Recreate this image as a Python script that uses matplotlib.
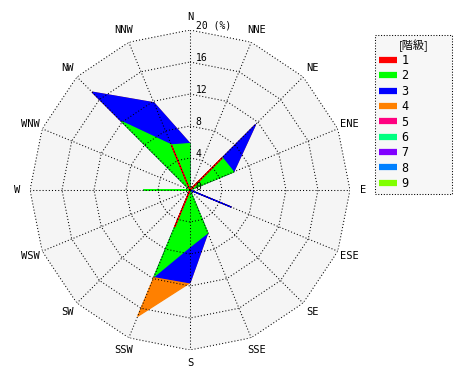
import matplotlib
matplotlib.use("Agg")
import matplotlib.pyplot as plt
from matplotlib.lines import Line2D
import numpy as np

plt.rcParams['font.family'] = ['DejaVu Sans Mono', 'Noto Sans CJK JP']

# 16 directions, clockwise from north
directions = ['N', 'NNE', 'NE', 'ENE', 'E', 'ESE', 'SE', 'SSE',
              'S', 'SSW', 'SW', 'WSW', 'W', 'WNW', 'NW', 'NNW']

# frequency (%) per wind class
class1 = [0, 0, 5.7, 0, 0, 0, 0, 0, 0, 5.0, 0, 0, 0, 0, 0, 6.1]
class2 = [5.8, 0, 0, 5.9, 0, 0, 0, 5.8, 7.1, 6.7, 0, 0, 5.8, 0, 12.1, 0]
class3 = [0, 0, 5.9, 0, 0, 5.6, 0, 0, 4.5, 0, 0, 0, 0, 0, 5.2, 5.7]
class4 = [0, 0, 0, 0, 0, 0, 0, 0, 0, 5.4, 0, 0, 0, 0, 0, 0]
class5 = [0] * 16
class6 = [0] * 16
class7 = [0] * 16
class8 = [0] * 16
class9 = [0] * 16

class_labels = ['1', '2', '3', '4', '5', '6', '7', '8', '9']
class_colors = ['#ff0000', '#00ff00', '#0000ff', '#ff8000', '#ff0080',
                '#00ff80', '#8000ff', '#0080ff', '#80ff00']
ring_values = [4, 8, 12, 16, 20]
ring_labels = ['4', '8', '12', '16', '20 (%)']

classes = [class1, class2, class3, class4, class5, class6, class7, class8, class9]
cum = np.cumsum(np.array(classes, dtype=float), axis=0)

theta = np.arange(16) * 2 * np.pi / 16
theta_c = np.append(theta, theta[0])

fig = plt.figure(figsize=(4.7, 3.8), dpi=100)
ax = fig.add_axes([30 / 470, 30 / 380, 320 / 470, 320 / 380], projection='polar')
ax.set_theta_zero_location('N')
ax.set_theta_direction(-1)
ax.set_ylim(0, 20)
ax.axis('off')

# background
ax.fill(theta_c, [20] * 17, color='#f5f5f5', lw=0, zorder=0)

# stacked polygons, largest cumulative first
for i in range(len(classes) - 1, -1, -1):
    if not any(classes[i]):
        continue
    r = np.append(cum[i], cum[i][0])
    ax.fill(theta_c, r, facecolor=class_colors[i], edgecolor=class_colors[i],
            lw=0.9, zorder=2)

# polygonal grid
dots = (0, (1, 2))
for rv in ring_values:
    ax.plot(theta_c, [rv] * 17, color='black', lw=0.75, ls=dots, zorder=5)
for t in theta:
    ax.plot([t, t], [0, 20], color='black', lw=0.75, ls=dots, zorder=5)

# ring labels
ax.annotate('0', xy=(0, 0), xytext=(4, 0), textcoords='offset points',
            fontsize=7, va='baseline', ha='left', zorder=6)
for rv, lab in zip(ring_values, ring_labels):
    ax.annotate(lab, xy=(0, rv), xytext=(4, 1), textcoords='offset points',
                fontsize=7, va='baseline', ha='left', zorder=6,
                annotation_clip=False)

# direction labels
for t, d in zip(theta, directions):
    ax.text(t, 21.6, d, fontsize=7.5, ha='center', va='center', clip_on=False)

handles = [Line2D([0], [0], color=c, lw=4.5, solid_capstyle='butt') for c in class_colors]
leg = fig.legend(handles, class_labels, title='[階級]', loc='upper left',
                 bbox_to_anchor=(375 / 470, 1 - 196 / 380, 77 / 470, 161 / 380),
                 mode='expand', fontsize=8.5,
                 handlelength=1.5, handletextpad=0.4, labelspacing=0.2,
                 borderpad=0.35, borderaxespad=0, fancybox=False, framealpha=1,
                 facecolor='#f7f7f7', edgecolor='black')
leg.get_frame().set_linestyle(':')
leg.get_frame().set_linewidth(0.75)
leg.get_title().set_fontsize(8)
leg.get_title().set_family(['Noto Sans CJK JP', 'DejaVu Sans'])

fig.savefig('out.png', dpi=100)
